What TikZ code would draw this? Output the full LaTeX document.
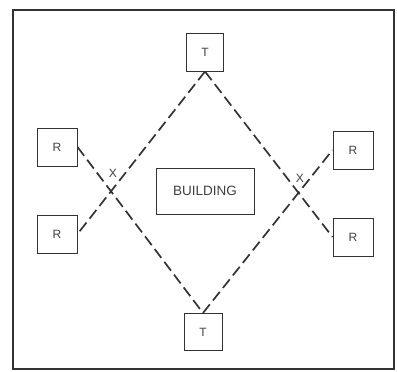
\documentclass[tikz,border=0pt]{standalone}
\usepackage{fontspec}
\setmainfont{Liberation Sans}
\begin{document}
\begin{tikzpicture}[x=1pt,y=-1pt,
  ink/.style={draw=black!80},
  boxnode/.style={ink, line width=1pt, minimum width=40pt, minimum height=38pt, inner sep=0pt, font=\fontsize{12}{12}\selectfont, text=black!75},
  path/.style={draw=black!80, line width=1.7pt, dash pattern=on 11pt off 5pt},
  xlabel/.style={font=\fontsize{12}{12}\selectfont, text=black!75, inner sep=0pt}]
\useasboundingbox (0,0) rectangle (397,372);
\draw[ink, line width=1.4pt] (13,10) rectangle (394,369);
\node[boxnode, minimum width=37pt] (tt) at (205,52) {T};
\node[boxnode, minimum width=38pt, minimum height=37pt] (bt) at (203,332) {T};
\node[boxnode] (rlt) at (57,147) {R};
\node[boxnode] (rlb) at (57,234) {R};
\node[boxnode] (rrt) at (353,150) {R};
\node[boxnode] (rrb) at (353,237) {R};
\node[ink, line width=1pt, minimum width=98pt, minimum height=46pt, inner sep=0pt, font=\fontsize{13.5}{13.5}\selectfont, text=black!75] (bld) at (205,191) {BUILDING};
\draw[path] (tt.south) -- (rlb.east);
\draw[path] (rlt.east) -- (bt.north);
\draw[path] (tt.south) -- (rrb.west);
\draw[path] (bt.north) -- (rrt.west);
\node[xlabel] (xl) at (113,173) {X};
\node[xlabel] (xr) at (300,178) {X};
\end{tikzpicture}
\end{document}
